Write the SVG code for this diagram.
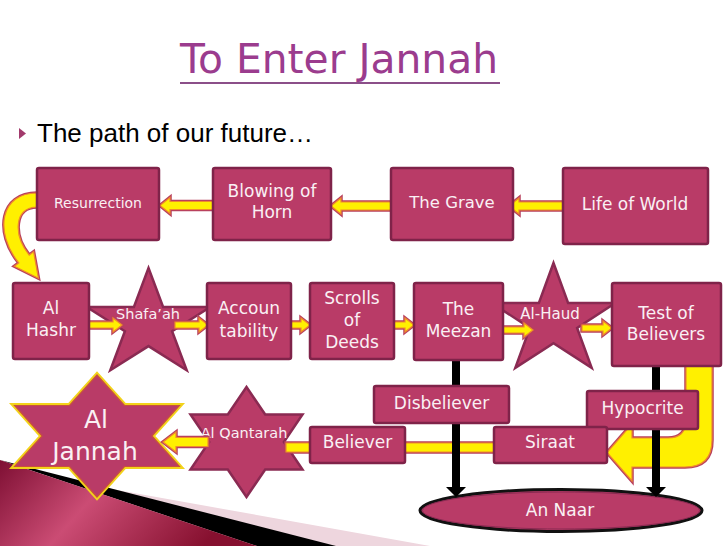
<svg xmlns="http://www.w3.org/2000/svg" width="728" height="546" viewBox="0 0 728 546">
<defs>
<style>
.box{fill:#B93B67;stroke:#7F2349;stroke-width:2.5}
.star{fill:#B93B67;stroke:#8A2A52;stroke-width:2.5}
.lbl{font-family:"DejaVu Sans",Verdana,sans-serif;fill:#FAF0F4;text-anchor:middle}
.ao{fill:none;stroke:#B8405E;stroke-width:3.5}
.ai{fill:#FFF000;stroke:#EF8B2C;stroke-width:1.2}
.blk{fill:#000}
</style>
<linearGradient id="wine" x1="0" y1="0" x2="1" y2="0.3">
<stop offset="0" stop-color="#7E0F33"/>
<stop offset="0.45" stop-color="#CB4C74"/>
<stop offset="1" stop-color="#86102F"/>
</linearGradient>
</defs>
<rect width="728" height="546" fill="#FFFFFF"/>

<g id="decoration">
<polygon points="0,469 430,546 0,546" fill="#EED6DE"/>
<polygon points="0,460 336,546 257,546" fill="#000"/>
<polygon points="0,460 257,546 0,546" fill="url(#wine)"/>
</g>

<g id="title">
<text x="339" y="73" text-anchor="middle" font-family="DejaVu Sans, sans-serif" font-size="40" fill="#9B3C8E" textLength="318" lengthAdjust="spacingAndGlyphs">To Enter Jannah</text>
<rect x="180" y="82" width="320" height="2" fill="#8B4F89"/>
<polygon points="19,128 19,139 26,133.5" fill="#A23A6C"/>
<text x="37" y="142" font-family="Liberation Sans, Arial, sans-serif" font-size="26" fill="#000">The path of our future…</text>
</g>

<g id="shafaah">
<polygon class="star" points="148.5,268 163.1,307 210.3,307 172.1,331.2 186.7,370.2 148.5,346.1 110.3,370.2 124.9,331.2 86.7,307 133.9,307"/>
<text class="lbl" x="148" y="319" font-size="14.5">Shafa’ah</text>
</g>
<g id="alhaud">
<polygon class="star" points="553.5,263 568.1,303 615.3,303 577.1,327.9 591.7,367.9 553.5,343.2 515.3,367.9 529.9,327.9 491.7,303 538.9,303"/>
<text class="lbl" x="550" y="319" font-size="15">Al-Haud</text>
</g>
<g id="aljannah">
<polygon points="97,375 124.5,405.5 179.4,405.5 151.9,436 179.4,466.5 124.5,466.5 97,497 69.5,466.5 14.6,466.5 42.1,436 14.6,405.5 69.5,405.5" fill="#B93B67" stroke="#F2D31A" stroke-width="5"/>
<polygon points="97,375 124.5,405.5 179.4,405.5 151.9,436 179.4,466.5 124.5,466.5 97,497 69.5,466.5 14.6,466.5 42.1,436 14.6,405.5 69.5,405.5" fill="#B93B67" stroke="#C8503E" stroke-width="1.2"/>
<text class="lbl" x="96" y="428" font-size="25">Al</text>
<text class="lbl" x="95" y="460" font-size="25">Jannah</text>
</g>
<g id="alqantarah">
<polygon class="star" points="246.5,387 265.2,414.5 302.5,414.5 283.9,442 302.5,469.5 265.2,469.5 246.5,497 227.8,469.5 190.5,469.5 209.2,442 190.5,414.5 227.8,414.5"/>
<text class="lbl" x="244" y="438" font-size="14.5">Al Qantarah</text>
</g>
<g id="annaar">
<ellipse cx="561" cy="510.5" rx="141" ry="21" fill="#B93B67" stroke="#111" stroke-width="3"/>
<ellipse cx="561" cy="510.5" rx="138.5" ry="18.5" fill="none" stroke="#8A2A52" stroke-width="1"/>
<text class="lbl" x="560" y="516" font-size="17">An Naar</text>
</g>

<g id="connectors">
<g><path class="ao" d="M37,193 C0,193 -6,232 18.8,262.9 L14.4,266.2 L38.4,278.2 L33.6,251.8 L29.2,255.1 C13,235 14,207 37,207 Z"/><path class="ai" d="M37,193 C0,193 -6,232 18.8,262.9 L14.4,266.2 L38.4,278.2 L33.6,251.8 L29.2,255.1 C13,235 14,207 37,207 Z"/></g>
<g><path class="ao" d="M563,202 H519 V198 L509,206 L519,214 V210 H563 Z"/><path class="ai" d="M563,202 H519 V198 L509,206 L519,214 V210 H563 Z"/></g>
<g><path class="ao" d="M391,202 H341 V198 L331,206 L341,214 V210 H391 Z"/><path class="ai" d="M391,202 H341 V198 L331,206 L341,214 V210 H391 Z"/></g>
<g><path class="ao" d="M213,201.5 H170 V197.5 L160,205.5 L170,213.5 V209.5 H213 Z"/><path class="ai" d="M213,201.5 H170 V197.5 L160,205.5 L170,213.5 V209.5 H213 Z"/></g>
<g><path class="ao" d="M89,322 H113 V318 L122,325 L113,332 V328 H89 Z"/><path class="ai" d="M89,322 H113 V318 L122,325 L113,332 V328 H89 Z"/></g>
<g><path class="ao" d="M175,322 H199 V318 L208,325 L199,332 V328 H175 Z"/><path class="ai" d="M175,322 H199 V318 L208,325 L199,332 V328 H175 Z"/></g>
<g><path class="ao" d="M291,322 H301 V318 L310,325 L301,332 V328 H291 Z"/><path class="ai" d="M291,322 H301 V318 L310,325 L301,332 V328 H291 Z"/></g>
<g><path class="ao" d="M394,322 H405 V318 L414,325 L405,332 V328 H394 Z"/><path class="ai" d="M394,322 H405 V318 L414,325 L405,332 V328 H394 Z"/></g>
<g><path class="ao" d="M503,327 H524 V323 L533,330 L524,337 V333 H503 Z"/><path class="ai" d="M503,327 H524 V323 L533,330 L524,337 V333 H503 Z"/></g>
<g><path class="ao" d="M582,325 H603 V321 L612,328 L603,335 V331 H582 Z"/><path class="ai" d="M582,325 H603 V321 L612,328 L603,335 V331 H582 Z"/></g>
<g><path class="ao" d="M208,437.5 H176 V432 L163,442 L176,452 V446.5 H208 Z"/><path class="ai" d="M208,437.5 H176 V432 L163,442 L176,452 V446.5 H208 Z"/></g>
<g><path class="ao" d="M286,443 H495 V452 H286 Z"/><path class="ai" d="M286,443 H495 V452 H286 Z"/></g>
<g><path class="ao" d="M686,366 L712,366 L712,440 Q712,467 685,467 L632,467 L632,481 L607,452.5 L632,424 L632,438 L668,438 Q686,438 686,420 Z"/><path class="ai" d="M686,366 L712,366 L712,440 Q712,467 685,467 L632,467 L632,481 L607,452.5 L632,424 L632,438 L668,438 Q686,438 686,420 Z"/></g>
<path class="blk" d="M452,359 H460 V487 H466 L456,497 L446,487 H452 Z"/>
<path class="blk" d="M652,366 H660 V487 H666 L656,497 L646,487 H652 Z"/>
</g>

<g id="resurrection"><rect class="box" x="37" y="168" width="122" height="72" rx="2"/><text class="lbl" x="98" y="208" font-size="14">Resurrection</text></g>
<g id="blowing"><rect class="box" x="213" y="168" width="118" height="72" rx="2"/><text class="lbl" x="272" y="197" font-size="17">Blowing of</text><text class="lbl" x="272" y="218" font-size="17">Horn</text></g>
<g id="grave"><rect class="box" x="391" y="168" width="122" height="72" rx="2"/><text class="lbl" x="452" y="208" font-size="16.5">The Grave</text></g>
<g id="lifeofworld"><rect class="box" x="563" y="168" width="145" height="76" rx="2"/><text class="lbl" x="635" y="210" font-size="17">Life of World</text></g>
<g id="alhashr"><rect class="box" x="13" y="283" width="76" height="76" rx="2"/><text class="lbl" x="51" y="314" font-size="17">Al</text><text class="lbl" x="51" y="336" font-size="17">Hashr</text></g>
<g id="accountability"><rect class="box" x="207" y="283" width="84" height="76" rx="2"/><text class="lbl" x="249" y="314" font-size="17">Accoun</text><text class="lbl" x="249" y="337" font-size="17">tability</text></g>
<g id="scrolls"><rect class="box" x="310" y="283" width="84" height="76" rx="2"/><text class="lbl" x="352" y="304" font-size="17">Scrolls</text><text class="lbl" x="352" y="326" font-size="17">of</text><text class="lbl" x="352" y="348" font-size="17">Deeds</text></g>
<g id="meezan"><rect class="box" x="414" y="283" width="89" height="77" rx="2"/><text class="lbl" x="458.5" y="315" font-size="17">The</text><text class="lbl" x="458.5" y="337" font-size="17">Meezan</text></g>
<g id="test"><rect class="box" x="612" y="283" width="109" height="83" rx="2"/><text class="lbl" x="666" y="319" font-size="17">Test of</text><text class="lbl" x="666" y="340" font-size="17">Believers</text></g>
<g id="disbeliever"><rect class="box" x="374" y="386" width="135" height="37" rx="2"/><text class="lbl" x="441.5" y="409" font-size="17">Disbeliever</text></g>
<g id="hypocrite"><rect class="box" x="587" y="391" width="111" height="38" rx="2"/><text class="lbl" x="642.5" y="414" font-size="17">Hypocrite</text></g>
<g id="siraat"><rect class="box" x="494" y="427" width="113" height="36" rx="2"/><text class="lbl" x="550" y="448" font-size="17">Siraat</text></g>
<g id="believer"><rect class="box" x="310" y="427" width="95" height="36" rx="2"/><text class="lbl" x="357.5" y="448" font-size="17">Believer</text></g>
</svg>
